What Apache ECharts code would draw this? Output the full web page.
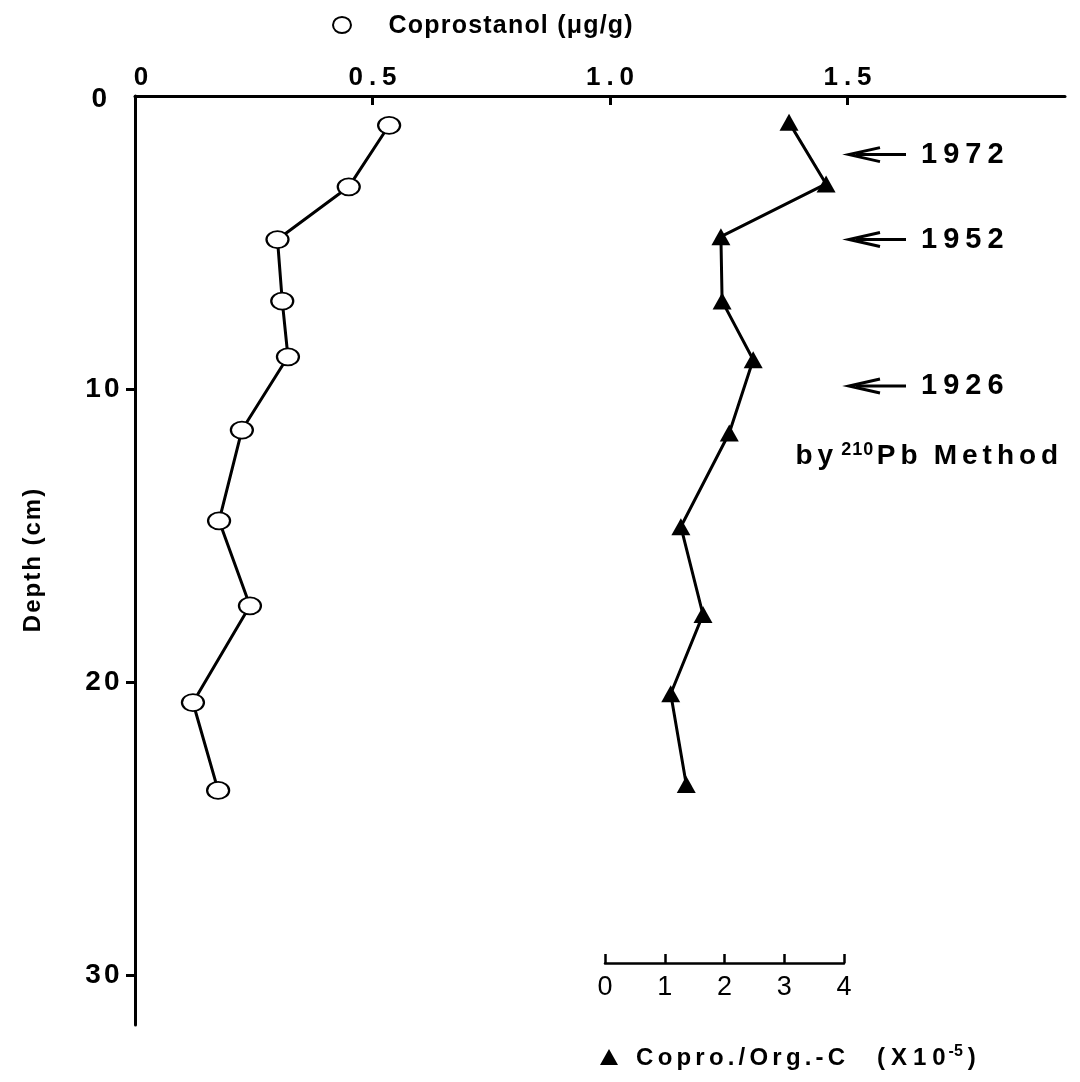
<!DOCTYPE html>
<html><head><meta charset="utf-8">
<script src="https://cdn.jsdelivr.net/npm/echarts@6/dist/echarts.min.js"></script>
<style>html,body{margin:0;padding:0;background:#fff}#c{width:1080px;height:1082px}</style>
</head><body><div id="c"></div>
<script>
// ---- data ----
const coproDepth = [1.0, 3.1, 4.9, 7.0, 8.9, 11.4, 14.5, 17.4, 20.7, 23.7];
const coprostanol = [0.535, 0.45, 0.30, 0.31, 0.322, 0.225, 0.177, 0.242, 0.122, 0.175];
const ratioDepth = [0.9, 3.0, 4.8, 7.0, 9.0, 11.5, 14.7, 17.7, 20.4, 23.5];
const ratio = [3.08, 3.70, 1.94, 1.96, 2.48, 2.08, 1.27, 1.64, 1.10, 1.36];
const depthTicks = [0, 10, 20, 30];
const coproTicks = [0, 0.5, 1.0, 1.5];
const ratioTicks = [0, 1, 2, 3, 4];
const yearDepths = [2.0, 4.9, 9.9];
const yearLabels = ['1972', '1952', '1926'];

// ---- layout ----
const FONT = '"Liberation Sans", Arial, sans-serif';
const PX_PER_CM = 29.3;
const G1 = {left: 135, top: 96, width: 930, height: 929};
const G2 = {left: 605, top: 96, width: 239, height: 867};
const PX_PER_COPRO = 475;

// letter-spaced rich text helper
function sp(str, tok) { return str.split('').map(c => '{' + tok + '|' + c + '}').join(''); }
function tokStyle(size, gap, weight) {
  return {fontFamily: FONT, fontSize: size, fontWeight: weight || 'bold', color: '#000', padding: [0, gap / 2, 0, gap / 2]};
}

const chart = echarts.init(document.getElementById('c'), null, {renderer: 'canvas'});
const ax = {color: '#000', width: 3};
const option = {
  animation: false,
  backgroundColor: '#fff',
  grid: [Object.assign({}, G1), Object.assign({}, G2)],
  xAxis: [
    {
      gridIndex: 0, type: 'value', position: 'top', min: 0, max: G1.width / PX_PER_COPRO,
      axisLine: {show: true, onZero: false, lineStyle: ax},
      axisTick: {show: true, inside: true, length: 9, lineStyle: {color: '#000', width: 3}, customValues: coproTicks.slice(1)},
      axisLabel: {show: true, customValues: coproTicks, margin: 5,
        formatter: v => v === 0 ? '{z|0}' : sp(v.toFixed(1), 't'),
        rich: {t: tokStyle(26, 6), z: Object.assign(tokStyle(26, 0), {padding: [0, 0, 0, 12]})}},
      splitLine: {show: false}
    },
    {
      gridIndex: 1, type: 'value', position: 'bottom', min: 0, max: 4,
      axisLine: {show: true, onZero: false, lineStyle: {color: '#000', width: 2.5}},
      axisTick: {show: true, inside: true, length: 9, lineStyle: {color: '#000', width: 2.5}, customValues: ratioTicks},
      axisLabel: {show: true, customValues: ratioTicks, margin: 11,
        formatter: v => '{t|' + v + '}',
        rich: {t: tokStyle(27, 0, 'normal')}},
      splitLine: {show: false}
    }
  ],
  yAxis: [
    {
      gridIndex: 0, type: 'value', inverse: true, min: 0, max: G1.height / PX_PER_CM,
      name: sp('Depth (cm)', 'n'), nameLocation: 'middle', nameGap: 90, nameRotate: 90,
      nameTextStyle: {rich: {n: tokStyle(24, 2)}},
      axisLine: {show: true, onZero: false, lineStyle: ax},
      axisTick: {show: true, inside: false, length: 9, lineStyle: {color: '#000', width: 3}, customValues: depthTicks.slice(1)},
      axisLabel: {show: true, customValues: depthTicks, margin: 14,
        formatter: v => v === 0 ? '{z|0}' : sp(String(v), 't'),
        rich: {t: tokStyle(28, 3), z: Object.assign(tokStyle(28, 0), {padding: [6, 14, 0, 0]})}},
      splitLine: {show: false}
    },
    {gridIndex: 1, type: 'value', inverse: true, min: 0, max: G2.height / PX_PER_CM, show: false}
  ],
  series: [
    {
      type: 'line', xAxisIndex: 0, yAxisIndex: 0,
      data: coprostanol.map((v, i) => [v, coproDepth[i]]),
      symbol: 'circle', symbolSize: [22, 17],
      lineStyle: {color: '#000', width: 3},
      itemStyle: {color: '#fff', borderColor: '#000', borderWidth: 2},
      z: 3
    },
    {
      type: 'line', xAxisIndex: 1, yAxisIndex: 1,
      data: ratio.map((v, i) => [v, ratioDepth[i]]),
      symbol: 'triangle', symbolSize: [19, 17],
      lineStyle: {color: '#000', width: 3},
      itemStyle: {color: '#000'},
      z: 3
    }
  ]
};
chart.setOption(option);

// ---- annotations ----
const g = [];
g.push({type: 'ellipse', shape: {cx: 342, cy: 25, rx: 9, ry: 8}, style: {fill: '#fff', stroke: '#000', lineWidth: 2}});
g.push({type: 'text', x: 388, y: 26, style: {text: sp('Coprostanol (μg/g)', 't'), verticalAlign: 'middle', rich: {t: tokStyle(25, 1.2)}}});
yearDepths.forEach((d, i) => {
  const y = chart.convertToPixel({yAxisIndex: 0}, d);
  g.push({type: 'line', shape: {x1: 856, y1: y, x2: 906, y2: y}, style: {stroke: '#000', lineWidth: 3}});
  g.push({type: 'polyline', shape: {points: [[880, y - 7], [849, y], [880, y + 7]]}, style: {stroke: '#000', lineWidth: 3, fill: null}});
  g.push({type: 'text', x: 918, y: y, style: {text: sp(yearLabels[i], 't'), verticalAlign: 'middle', rich: {t: tokStyle(29, 6)}}});
});
g.push({type: 'text', x: 793, y: 456, style: {
  text: sp('by', 'a') + '{g| }' + sp('210', 's') + sp('Pb', 'a') + '{g| }{g| }' + sp('Method', 'a'), verticalAlign: 'middle',
  rich: {
    a: tokStyle(28, 5),
    g: tokStyle(20, 0),
    s: Object.assign(tokStyle(18, 1), {verticalAlign: 'top', padding: [0, 1, 12, 0]})
  }
}});
g.push({type: 'polygon', shape: {points: [[609, 1049], [600, 1065], [618, 1065]]}, style: {fill: '#000'}});
g.push({type: 'text', x: 634, y: 1058, style: {
  text: sp('Copro./Org.-C', 'a') + '{g| }{g| }{g| }{g| }' + sp('(X10', 'b') + '{s|-5}' + sp(')', 'b'), verticalAlign: 'middle',
  rich: {
    a: tokStyle(24, 4.2),
    b: tokStyle(24, 6),
    g: tokStyle(24, 0),
    s: Object.assign(tokStyle(16, 0), {verticalAlign: 'top', padding: [0, 2, 12, 0]})
  }
}});
chart.setOption({graphic: {elements: g}});
</script>
</body></html>
